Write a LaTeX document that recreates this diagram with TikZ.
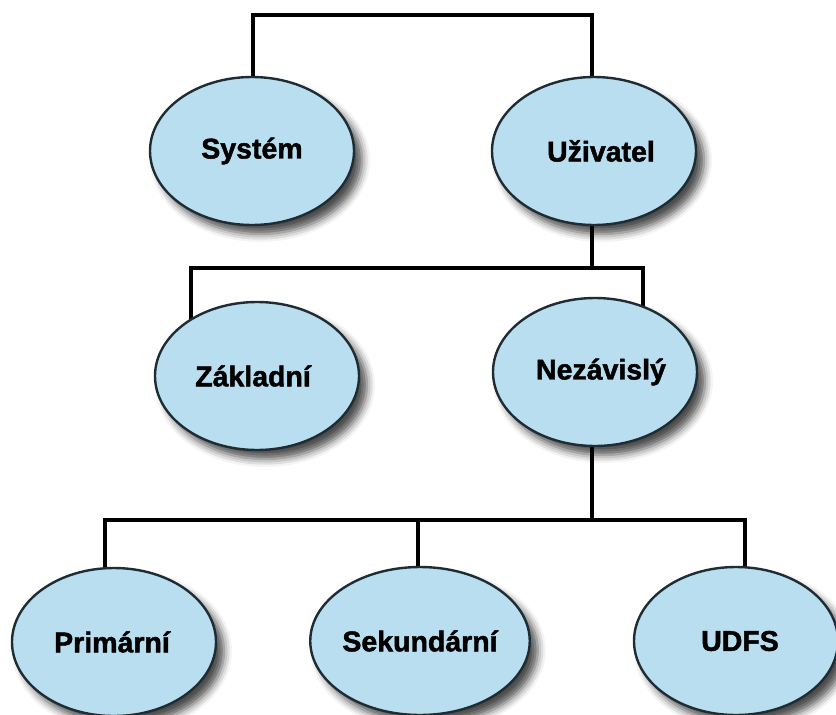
\documentclass[tikz,border=0pt]{standalone}
\usepackage{fontspec}
\setmainfont{Liberation Sans}[BoldFeatures={FakeBold=1.6}]
\usetikzlibrary{shapes.geometric,shadows.blur,backgrounds}
\definecolor{ovalfill}{HTML}{B8DEF0}
\definecolor{ovaldraw}{HTML}{1F2C33}
\tikzset{
  oval/.style={ellipse, draw=ovaldraw, line width=2.4pt, fill=ovalfill, inner sep=0pt,
    minimum width=204pt, minimum height=148pt,
    font=\fontsize{28.5}{30}\selectfont\bfseries,
    blur shadow={shadow xshift=8pt, shadow yshift=-9pt, shadow blur radius=8pt, shadow opacity=70}},
  conn/.style={line width=4pt, black, line cap=rect}
}
\begin{document}
\begin{tikzpicture}[x=1pt,y=-1pt]
\useasboundingbox (0,0) rectangle (836,715);
\clip (0,0) rectangle (836,715);
% nodes
\node[oval] (sys) at (252,151) {\raisebox{-8pt}{Systém}};
\node[oval] (usr) at (594,151) {\raisebox{-8pt}{\hspace*{14pt}Uživatel}};
\node[oval] (zak) at (257,376) {\raisebox{-4pt}{\hspace*{-8pt}Základní}};
\node[oval] (nez) at (595,372) {\raisebox{-5pt}{\hspace*{12pt}Nezávislý}};
\node[oval] (pri) at (114,642) {\raisebox{-6pt}{\hspace*{-4pt}Primární}};
\node[oval] (sek) at (420,641) {\raisebox{-4pt}{Sekundární}};
\node[oval] (udfs) at (736,641) {\raisebox{-4pt}{\hspace*{8pt}UDFS}};
% junctions
\coordinate (t1) at (253,15);
\coordinate (t2) at (592,15);
\coordinate (m0) at (592,268);
\coordinate (m1) at (191,268);
\coordinate (m2) at (643,268);
\coordinate (b0) at (592,520);
\coordinate (b1) at (105,520);
\coordinate (b2) at (418,520);
\coordinate (b3) at (745,520);
\begin{scope}[on background layer]
\draw[conn] (t1 |- sys.center) -- (t1) -- (t2) -- (t2 |- usr.center);
\draw[conn] (m0 |- usr.center) -- (m0);
\draw[conn] (m1 |- zak.center) -- (m1) -- (m2) -- (m2 |- nez.center);
\draw[conn] (b0 |- nez.center) -- (b0);
\draw[conn] (b1 |- pri.center) -- (b1) -- (b3) -- (b3 |- udfs.center);
\draw[conn] (b2) -- (b2 |- sek.center);
\end{scope}
\end{tikzpicture}
\end{document}
